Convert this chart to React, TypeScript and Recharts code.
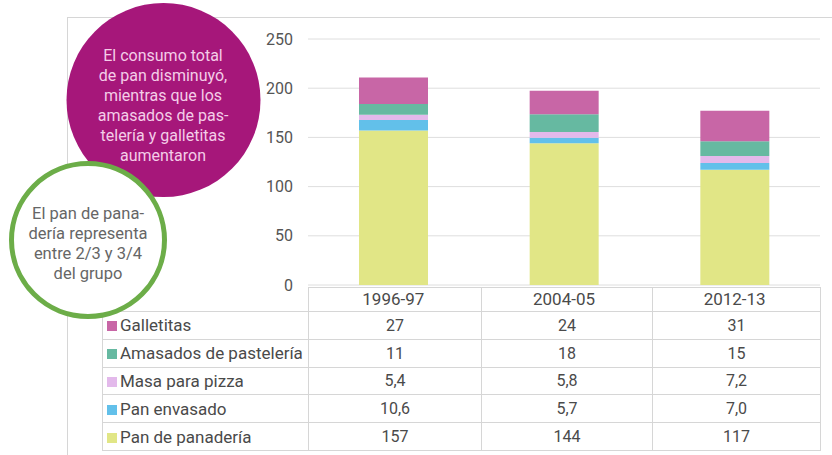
import React from "react";
import { BarChart, Bar, XAxis, YAxis, CartesianGrid } from "recharts";

const PERIODS = ["1996-97", "2004-05", "2012-13"];
const GALLETITAS = [27, 24, 31];
const AMASADOS = [11, 18, 15];
const MASA_PIZZA = [5.4, 5.8, 7.2];
const PAN_ENVASADO = [10.6, 5.7, 7.0];
const PAN_PANADERIA = [157, 144, 117];
const Y_TICKS = [0, 50, 100, 150, 200, 250];

// top-to-bottom order as in the table
const SERIES = [
  { key: "galletitas", name: "Galletitas", values: GALLETITAS, color: "#c866a6", decimals: 0 },
  { key: "amasados", name: "Amasados de pastelería", values: AMASADOS, color: "#66b9a1", decimals: 0 },
  { key: "masaPizza", name: "Masa para pizza", values: MASA_PIZZA, color: "#e3b9eb", decimals: 1 },
  { key: "panEnvasado", name: "Pan envasado", values: PAN_ENVASADO, color: "#62c0ea", decimals: 1 },
  { key: "panPanaderia", name: "Pan de panadería", values: PAN_PANADERIA, color: "#e1e686", decimals: 0 },
];

const data = PERIODS.map((p, i) => {
  const row: Record<string, any> = { period: p };
  SERIES.forEach((s) => (row[s.key] = s.values[i]));
  return row;
});

const fmt = (v: number, d: number) => v.toFixed(d).replace(".", ",");

const FONT = "Roboto, 'DejaVu Sans', sans-serif";
const TEXT = "#4a4a4a";
const LINE = "#d6d6d6";

const MAGENTA_LINES = [
  "El consumo total",
  "de pan disminuyó,",
  "mientras que los",
  "amasados de pas-",
  "telería y galletitas",
  "aumentaron",
];
const GREEN_LINES = ["El pan de pana-", "dería representa", "entre 2/3 y 3/4", "del grupo"];

function DataTable() {
  const colW = [206, 173, 171, 168];
  const cell: React.CSSProperties = {
    border: `1px solid ${LINE}`,
    padding: 0,
    height: 26.8,
    textAlign: "center",
    verticalAlign: "middle",
    fontSize: 16,
    color: TEXT,
  };
  return (
    <table
      style={{
        position: "absolute",
        left: 102,
        top: 287,
        borderCollapse: "collapse",
        tableLayout: "fixed",
        fontFamily: FONT,
      }}
    >
      <colgroup>
        {colW.map((w, i) => (
          <col key={i} style={{ width: w }} />
        ))}
      </colgroup>
      <tbody>
        <tr>
          <td style={{ ...cell, border: "none", height: 23 }} />
          {PERIODS.map((p) => (
            <td key={p} style={{ ...cell, height: 23 }} />
          ))}
        </tr>
        {SERIES.map((s) => (
          <tr key={s.key}>
            <td style={{ ...cell, textAlign: "left", whiteSpace: "nowrap", fontSize: 17 }}>
              <span
                style={{
                  display: "inline-block",
                  width: 10,
                  height: 10,
                  background: s.color,
                  marginLeft: 4,
                  marginRight: 3,
                }}
              />
              {s.name}
            </td>
            {s.values.map((v, i) => (
              <td key={i} style={cell}>
                {fmt(v, s.decimals)}
              </td>
            ))}
          </tr>
        ))}
      </tbody>
    </table>
  );
}

export default function App() {
  return (
    <div
      style={{
        position: "absolute",
        left: 0,
        top: 0,
        width: 832,
        height: 455,
        background: "#fff",
        overflow: "hidden",
        fontFamily: FONT,
      }}
    >
      {/* outer frame */}
      <div
        style={{
          position: "absolute",
          left: 67,
          top: 17,
          width: 800,
          height: 500,
          borderTop: `1px solid ${LINE}`,
          borderLeft: `1px solid ${LINE}`,
        }}
      />
      <div style={{ position: "absolute", left: 0, top: 0 }}>
        <BarChart
          width={832}
          height={455}
          data={data}
          margin={{ top: 39, right: 12, bottom: 140, left: 248 }}
          barSize={69}
        >
          <CartesianGrid vertical={false} stroke="#dedede" />
          <XAxis
            dataKey="period"
            axisLine={false}
            tickLine={false}
            height={30}
            tick={{ fontSize: 17, fill: TEXT }}
          />
          <YAxis
            domain={[0, 250]}
            ticks={Y_TICKS}
            axisLine={false}
            tickLine={false}
            tickSize={0}
            tickMargin={15}
            width={60}
            tick={{ fontSize: 16, fill: "#555" }}
          />
          {[...SERIES].reverse().map((s) => (
            <Bar key={s.key} dataKey={s.key} stackId="a" fill={s.color} isAnimationActive={false} />
          ))}
        </BarChart>
      </div>
      <DataTable />
      {/* annotation bubbles */}
      <svg width={832} height={455} style={{ position: "absolute", left: 0, top: 0, pointerEvents: "none" }}>
        <circle cx={163.5} cy={100} r={97} fill="#a6177a" />
        <g fontSize={16} fill="#f4cde8" fontFamily={FONT}>
          {MAGENTA_LINES.map((t, i) => (
            <text key={i} x={163} y={55 + i * 20} textAnchor="middle" dominantBaseline="central">
              {t}
            </text>
          ))}
        </g>
        <circle cx={88} cy={240} r={76.5} fill="#fff" stroke="#6cad48" strokeWidth={5} />
        <g fontSize={16.5} fill="#666" fontFamily={FONT}>
          {GREEN_LINES.map((t, i) => (
            <text key={i} x={88} y={213 + i * 20} textAnchor="middle" dominantBaseline="central">
              {t}
            </text>
          ))}
        </g>
      </svg>
    </div>
  );
}
